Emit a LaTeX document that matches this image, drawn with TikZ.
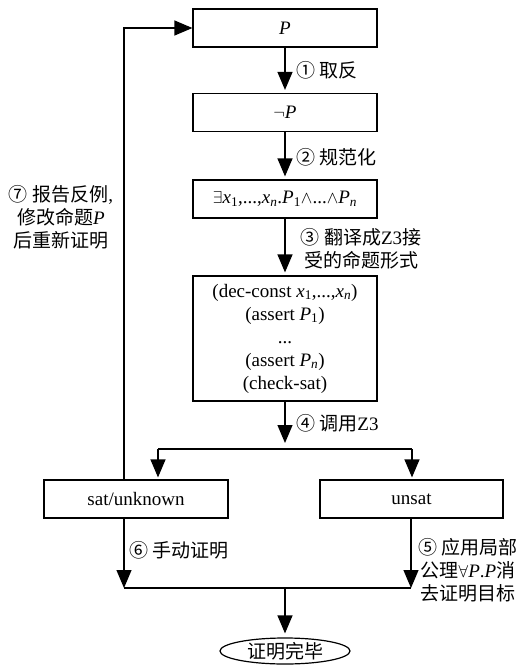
\documentclass[tikz,border=0pt]{standalone}
\usepackage{fontspec}
\setmainfont{Liberation Serif}
\newfontfamily\cjk{Noto Sans CJK SC}
\usetikzlibrary{arrows.meta,shapes.geometric}
\newcommand\zh[1]{{\cjk #1}}
\newcommand\iv[1]{\textit{#1}}
\newcommand\sbi[1]{\textsubscript{\textit{#1}}}
\newcommand\sbr[1]{\textsubscript{#1}}
\begin{document}
\begin{tikzpicture}[x=1pt,y=-1pt, font=\fontsize{19}{23}\selectfont,
  box/.style={draw, line width=1.2pt, minimum width=184pt, minimum height=38pt, inner sep=0pt},
  arr/.style={-{Triangle[width=15pt,length=18pt]}, line width=1.2pt, shorten >=3pt},
  ln/.style={line width=1.2pt},
  lbl/.style={inner sep=0pt, align=center}]
\useasboundingbox (0,0) rectangle (531,665);
\node[box] (P) at (285,28) {\iv{P}};
\node[box] (nP) at (285,112.5) {$\neg$\iv{P}};
\node[box] (ex) at (285,199) {$\exists$\iv{x}\sbr{1},...,\iv{x}\sbi{n}.\iv{P}\sbr{1}$\wedge$...$\wedge$\iv{P}\sbi{n}};
\node[box, minimum height=125pt, align=center] (z3) at (285,338.5) {(dec-const \iv{x}\sbr{1},...,\iv{x}\sbi{n})\\(assert \iv{P}\sbr{1})\\...\\(assert \iv{P}\sbi{n})\\(check-sat)};
\node[box] (sat) at (136,499) {sat/unknown};
\node[box, minimum width=183pt] (unsat) at (411.5,499) {unsat};
\node[draw, ellipse, line width=1.2pt, minimum width=130pt, minimum height=26pt, inner sep=0pt] (done) at (285,651) {\zh{证明完毕}};

\node[lbl, anchor=west] (l1) at (296,70) {\zh{① 取反}};
\node[lbl, anchor=west] (l2) at (296,157) {\zh{② 规范化}};
\node[lbl] (l3) at (361,248.5) {\zh{③ 翻译成}Z3\zh{接}\\\zh{受的命题形式}};
\node[lbl, anchor=west] (l4) at (296,423) {\zh{④ 调用}Z3};
\node[lbl, anchor=west] (l6) at (129,550) {\zh{⑥ 手动证明}};
\node[lbl] (l5) at (468,570) {\zh{⑤ 应用局部}\\\zh{公理}$\forall$\iv{P}.\iv{P}\zh{消}\\\zh{去证明目标}};
\node[lbl] (l7) at (61,217) {\zh{⑦ 报告反例}, \\\zh{修改命题}\iv{P}\\\zh{后重新证明}};

\draw[arr] (P) -- (nP);
\draw[arr] (nP) -- (ex);
\draw[arr] (ex) -- (z3);
\coordinate (split) at (285,449);
\coordinate (sl) at (158,449);
\coordinate (sr) at (412,449);
\draw[arr, shorten >=6pt] (z3) -- (split);
\draw[ln] (sl) -- (sr);
\draw[arr, shorten >=2pt] (sl) -- (sl |- sat.north);
\draw[arr, shorten >=2pt] (sr) -- (sr |- unsat.north);
\coordinate (fb) at (124,480);
\draw[arr, shorten >=0pt] (fb) |- (P.west);
\coordinate (jl) at (124,588);
\coordinate (jr) at (411,588);
\coordinate (jm) at (285,588);
\draw[arr, shorten >=0pt] (sat.south -| jl) -- (jl);
\draw[arr, shorten >=0pt] (unsat.south -| jr) -- (jr);
\draw[ln] (jl) -- (jr);
\draw[arr, shorten >=4pt] (jm) -- (done);
\end{tikzpicture}
\end{document}
